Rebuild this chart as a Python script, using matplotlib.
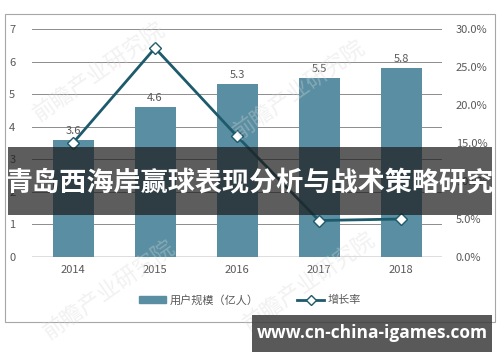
import matplotlib.pyplot as plt
from matplotlib.patches import Rectangle
from matplotlib.lines import Line2D

plt.rcParams['font.family'] = ['Noto Sans CJK SC', 'DejaVu Sans']

# Data
years = ["2014", "2015", "2016", "2017", "2018"]
users = [3.6, 4.6, 5.3, 5.5, 5.8]          # 用户规模（亿人）
growth = [15.0, 27.5, 15.9, 4.8, 5.0]      # 增长率 (%)
left_ticks = [0, 1, 2, 3, 4, 5, 6, 7]
right_ticks = [0, 5, 10, 15, 20, 25, 30]

bar_color = '#5A8EA2'
line_color = '#1D5A6B'
text_gray = '#595959'

fig = plt.figure(figsize=(5, 3.62), dpi=100)

# outer chart border
fig.patches.append(Rectangle((5/500, 1-322/362), 490/500, 308/362, transform=fig.transFigure,
                             fill=False, edgecolor='#A6A6A6', linewidth=0.8))

ax = fig.add_axes([32/500, 1-257/362, 410/500, 228/362])
x = list(range(len(years)))
ax.bar(x, users, width=0.5, color=bar_color, zorder=2)
for i, v in enumerate(users):
    ax.text(i, v + 0.12, str(v), ha='center', va='bottom', fontsize=8, color=text_gray)

ax.set_xlim(-0.5, 4.5)
ax.set_ylim(0, 7)
ax.set_yticks(left_ticks)
ax.set_xticks(x)
ax.set_xticklabels(years)
ax.grid(axis='y', color='#8C8C8C', linewidth=0.7, zorder=0)
ax.set_axisbelow(True)
for s in ax.spines.values():
    s.set_visible(False)
ax.axhline(0, color='#595959', linewidth=1.0, zorder=1)
ax.tick_params(length=0, labelsize=8, labelcolor=text_gray)
ax.tick_params(axis='y', pad=12)
ax.tick_params(axis='x', pad=6)

ax2 = ax.twinx()
ax2.plot(x, growth, color=line_color, linewidth=2, marker='D', markersize=6,
         markerfacecolor='white', markeredgecolor=line_color, markeredgewidth=1, zorder=3)
ax2.set_ylim(0, 30)
ax2.set_yticks(right_ticks)
ax2.set_yticklabels([f"{t:.1f}%" for t in right_ticks])
for s in ax2.spines.values():
    s.set_visible(False)
ax2.tick_params(length=0, labelsize=8, labelcolor=text_gray, pad=10)

# legend
handles = [Rectangle((0, 0), 1, 1, color=bar_color),
           Line2D([0], [0], color=line_color, linewidth=2, marker='D', markersize=5,
                  markerfacecolor='white', markeredgecolor=line_color)]
fig.legend(handles, ['用户规模（亿人）', '增长率'], loc='center', bbox_to_anchor=(0.5, 1-300/362),
           ncol=2, frameon=False, fontsize=8, labelcolor=text_gray,
           handlelength=2.4, handleheight=0.6, columnspacing=3.5, handletextpad=0.3)

# faint watermark
for wx, wy in [(0.2, 0.8), (0.6, 0.75), (0.22, 0.2), (0.62, 0.22)]:
    fig.text(wx, wy, '前瞻产业研究院', fontsize=16, color='#D8D8D8', alpha=0.35,
             rotation=35, ha='center', va='center')

# title banner
fig.patches.append(Rectangle((8/500, 1-215/362), 484/500, 68/362, transform=fig.transFigure,
                             facecolor='#1E1E1E', alpha=0.72, edgecolor='none', zorder=5))
fig.text(0.5, 1-183/362, '青岛西海岸赢球表现分析与战术策略研究', fontsize=19.5, fontweight='bold',
         color='white', ha='center', va='center', zorder=6)

# url box
fig.patches.append(Rectangle((252/500, 1-352/362), 240/500, 37/362, transform=fig.transFigure,
                             facecolor='#3C3C3C', alpha=0.85, edgecolor='none', zorder=5))
fig.text(372/500, 1-333/362, 'www.cn-china-igames.com', fontsize=12.5, fontweight='bold',
         color='white', ha='center', va='center', family=['Open Sans', 'DejaVu Sans'], zorder=6)

fig.savefig('out.png', dpi=100)
